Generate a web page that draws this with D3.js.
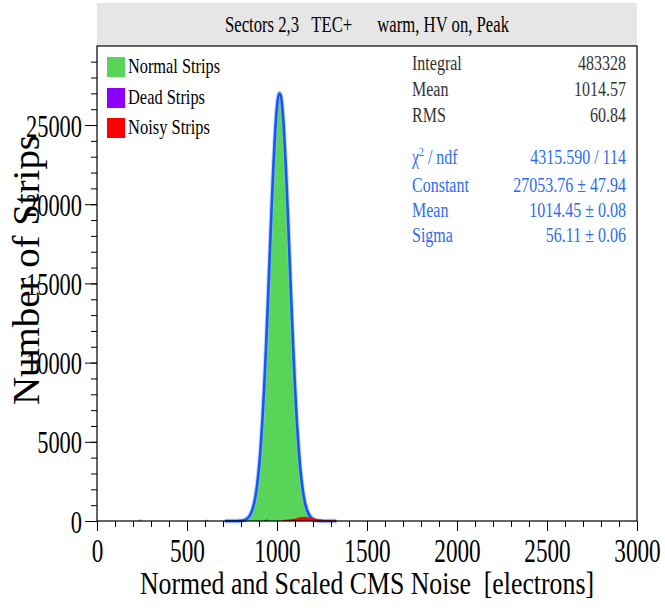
<!DOCTYPE html>
<html>
<head>
<script src="https://cdnjs.cloudflare.com/ajax/libs/d3/7.8.5/d3.min.js"></script>
<meta charset="utf-8">
<title>CMS Noise</title>
</head>
<style>
body { margin: 0; background: #fff; }
svg { font-family: "Liberation Serif", "Times New Roman", serif; }
</style>
<body>
<script>

// histogram of normal strips, bins of 10 electrons starting at 790
var binWidth = 10;
var normalStart = 790;
var normalCounts = [40, 60, 90, 140, 220, 340, 520, 800, 1250, 1900, 2850, 4100, 5650, 7650, 9900,
  12550, 15450, 18400, 21200, 23650, 25550, 26750, 27150, 26650, 25350, 23300, 20750, 17900, 15050,
  12300, 9800, 7600, 5750, 4250, 3050, 2150, 1500, 1030, 700, 470, 320, 220, 150, 100, 70, 45, 25];
// isolated normal strips far from the peak
var strayBins = [230, 240, 600, 610];
var strayCounts = [80, 90, 70, 80];

// noisy strips, bins from 1030
var noisyStart = 1030;
var noisyCounts = [60, 80, 90, 100, 110, 120, 140, 160, 200, 230, 250, 260, 260, 250, 240, 220,
  200, 170, 140, 120, 100, 90, 80, 70, 60, 55, 50, 45, 40];

// dead strips
var deadBins = [930, 940];
var deadCounts = [70, 90];

// gaussian fit curve, every 10 electrons from 710
var fitStart = 710;
var fitValues = [0, 0, 0, 0, 0, 1, 2, 4, 9, 18, 35, 67, 122, 215, 369, 612, 985, 1532, 2313, 3379,
  4783, 6561, 8717, 11219, 13987, 16895, 19768, 22406, 24604, 26171, 26969, 26922, 26034, 24389,
  22133, 19460, 16574, 13674, 10930, 8463, 6347, 4614, 3247, 2213, 1461, 936, 580, 349, 203, 114,
  62, 33, 17, 8, 4, 2, 1, 0, 0, 0, 0, 0, 0];

var xTicks = [0, 500, 1000, 1500, 2000, 2500, 3000];
var yTicks = [0, 5000, 10000, 15000, 20000, 25000];

var legendNames = ["Normal Strips", "Dead Strips", "Noisy Strips"];
var legendColors = ["#58d558", "#8c00ff", "#ff0000"];

var statNames = ["Integral", "Mean", "RMS"];
var statValues = ["483328", "1014.57", "60.84"];
var fitNames = ["χ2 / ndf", "Constant", "Mean", "Sigma"];
var fitParams = ["4315.590 / 114", "27053.76 ± 47.94", "1014.45 ± 0.08", "56.11 ± 0.06"];

var W = 665, H = 611;
var pl = 97, pr = 637, pt = 46, pb = 521;

var svg = d3.select("body").append("svg")
  .attr("width", W).attr("height", H);

var x = d3.scaleLinear().domain([0, 3000]).range([pl, pr]);
var y = d3.scaleLinear().domain([0, 29990]).range([pb, pt]);

// title box
svg.append("rect")
  .attr("x", pl).attr("y", 3).attr("width", pr - pl).attr("height", pt - 3)
  .attr("fill", "#e6e6e6");
svg.append("text")
  .attr("x", (pl + pr) / 2).attr("y", 32)
  .attr("text-anchor", "middle")
  .style("font-size", "23px").style("white-space", "pre")
  .attr("textLength", 284).attr("lengthAdjust", "spacingAndGlyphs")
  .text("Sectors 2,3   TEC+      warm, HV on, Peak");

function histPoints(start, counts) {
  var pts = [];
  counts.forEach(function(c, i) {
    pts.push([start + i * binWidth, c]);
  });
  pts.push([start + counts.length * binWidth, 0]);
  return pts;
}

var histArea = d3.area()
  .x(function(d) { return x(d[0]); })
  .y0(y(0))
  .y1(function(d) { return y(d[1]); })
  .curve(d3.curveStepAfter);

svg.append("path")
  .datum(histPoints(normalStart, normalCounts))
  .attr("d", histArea)
  .attr("fill", legendColors[0]);

svg.selectAll(".stray").data(strayBins).enter().append("rect")
  .attr("x", function(d) { return x(d); })
  .attr("width", x(binWidth) - x(0))
  .attr("y", function(d, i) { return y(strayCounts[i]); })
  .attr("height", function(d, i) { return y(0) - y(strayCounts[i]); })
  .attr("fill", legendColors[0]);

// fit
var fitLine = d3.line()
  .x(function(d, i) { return x(fitStart + i * 10); })
  .y(function(d) { return y(d); })
  .curve(d3.curveMonotoneX);

svg.append("path")
  .datum(fitValues)
  .attr("d", fitLine)
  .attr("fill", "none")
  .attr("stroke", "#8fb4ff")
  .attr("stroke-width", 4.5)
  .attr("stroke-opacity", 0.6);
svg.append("path")
  .datum(fitValues)
  .attr("d", fitLine)
  .attr("fill", "none")
  .attr("stroke", "#1558f5")
  .attr("stroke-width", 2.6);

svg.append("path")
  .datum(histPoints(noisyStart, noisyCounts))
  .attr("d", histArea)
  .attr("fill", legendColors[2]);

svg.selectAll(".dead").data(deadBins).enter().append("rect")
  .attr("x", function(d) { return x(d); })
  .attr("width", x(binWidth) - x(0))
  .attr("y", function(d, i) { return y(deadCounts[i]); })
  .attr("height", function(d, i) { return y(0) - y(deadCounts[i]); })
  .attr("fill", legendColors[1]);

// axes
var xMinor = svg.append("g").attr("transform", "translate(0," + pb + ")")
  .call(d3.axisBottom(x).tickValues(d3.range(0, 3001, 100)).tickSize(6).tickSizeOuter(0).tickFormat(""));
var xAxis = svg.append("g").attr("transform", "translate(0," + pb + ")")
  .call(d3.axisBottom(x).tickValues(xTicks).tickSize(10).tickSizeOuter(0).tickFormat(d3.format("d")));
var yMinor = svg.append("g").attr("transform", "translate(" + pl + ",0)")
  .call(d3.axisLeft(y).tickValues(d3.range(0, 29001, 1000)).tickSize(6).tickSizeOuter(0).tickFormat(""));
var yAxis = svg.append("g").attr("transform", "translate(" + pl + ",0)")
  .call(d3.axisLeft(y).tickValues(yTicks).tickSize(12).tickSizeOuter(0).tickFormat(d3.format("d")));

[xMinor, xAxis, yMinor, yAxis].forEach(function(g) {
  g.select(".domain").remove();
  g.selectAll("line").attr("stroke", "#000");
});

xAxis.selectAll("text")
  .attr("y", 41).attr("dy", 0)
  .style("font-size", "33px").style("font-family", "Liberation Serif")
  .attr("fill", "#000")
  .attr("textLength", function(d) { return String(d).length * 11.6; })
  .attr("lengthAdjust", "spacingAndGlyphs");
yAxis.selectAll("text")
  .attr("x", -15).attr("y", 11).attr("dy", 0)
  .style("font-size", "32px").style("font-family", "Liberation Serif")
  .attr("fill", "#000")
  .attr("textLength", function(d) { return String(d).length * 11.2; })
  .attr("lengthAdjust", "spacingAndGlyphs");

// frame
svg.append("rect")
  .attr("x", pl).attr("y", pt).attr("width", pr - pl).attr("height", pb - pt)
  .attr("fill", "none").attr("stroke", "#000").attr("stroke-width", 1.2);

// axis titles
svg.append("text")
  .attr("x", 367).attr("y", 594)
  .attr("text-anchor", "middle")
  .style("font-size", "32px").style("white-space", "pre")
  .attr("textLength", 454).attr("lengthAdjust", "spacingAndGlyphs")
  .text("Normed and Scaled CMS Noise  [electrons]");
svg.append("text")
  .attr("transform", "translate(39,270) rotate(-90)")
  .attr("text-anchor", "middle")
  .style("font-size", "38px")
  .attr("textLength", 270).attr("lengthAdjust", "spacingAndGlyphs")
  .text("Number of Strips");

// legend
var legendY = [57, 88, 118];
var legendW = [92, 77, 82];
var legend = svg.selectAll(".legend").data(legendNames).enter().append("g");
legend.append("rect")
  .attr("x", 107).attr("y", function(d, i) { return legendY[i]; })
  .attr("width", 18).attr("height", 20)
  .attr("fill", function(d, i) { return legendColors[i]; });
legend.append("text")
  .attr("x", 128).attr("y", function(d, i) { return legendY[i] + 16; })
  .style("font-size", "21px")
  .attr("textLength", function(d, i) { return legendW[i]; })
  .attr("lengthAdjust", "spacingAndGlyphs")
  .text(function(d) { return d; });

// stats box
function squish(sel, f) {
  sel.each(function() {
    var L = this.getComputedTextLength();
    d3.select(this).attr("textLength", L * f).attr("lengthAdjust", "spacingAndGlyphs");
  });
}

var statY = [70, 96, 122];
var fitY = [164, 192, 217, 242];

var s1 = svg.selectAll(".sname").data(statNames).enter().append("text")
  .attr("x", 412).attr("y", function(d, i) { return statY[i]; })
  .style("font-size", "20px").attr("fill", "#333")
  .text(function(d) { return d; });
var s2 = svg.selectAll(".sval").data(statValues).enter().append("text")
  .attr("x", 626).attr("y", function(d, i) { return statY[i]; })
  .attr("text-anchor", "end")
  .style("font-size", "20px").attr("fill", "#333")
  .text(function(d) { return d; });

var fitColor = "#2d6cf2";
var f1 = svg.selectAll(".fname").data(fitNames.slice(1)).enter().append("text")
  .attr("x", 412).attr("y", function(d, i) { return fitY[i + 1]; })
  .style("font-size", "20px").attr("fill", fitColor)
  .text(function(d) { return d; });
var chi = svg.append("text")
  .attr("x", 412).attr("y", fitY[0])
  .style("font-size", "20px").attr("fill", fitColor);
chi.append("tspan").text("χ");
chi.append("tspan").attr("dy", -8).style("font-size", "12px").text("2");
chi.append("tspan").attr("dy", 8).text(" / ndf");
var f2 = svg.selectAll(".fval").data(fitParams).enter().append("text")
  .attr("x", 626).attr("y", function(d, i) { return fitY[i]; })
  .attr("text-anchor", "end")
  .style("font-size", "20px").attr("fill", fitColor)
  .text(function(d) { return d; });

squish(s1, 0.8);
squish(s2, 0.8);
squish(f1, 0.8);
squish(f2, 0.8);
squish(chi, 0.8);

</script>
</body>
</html>
